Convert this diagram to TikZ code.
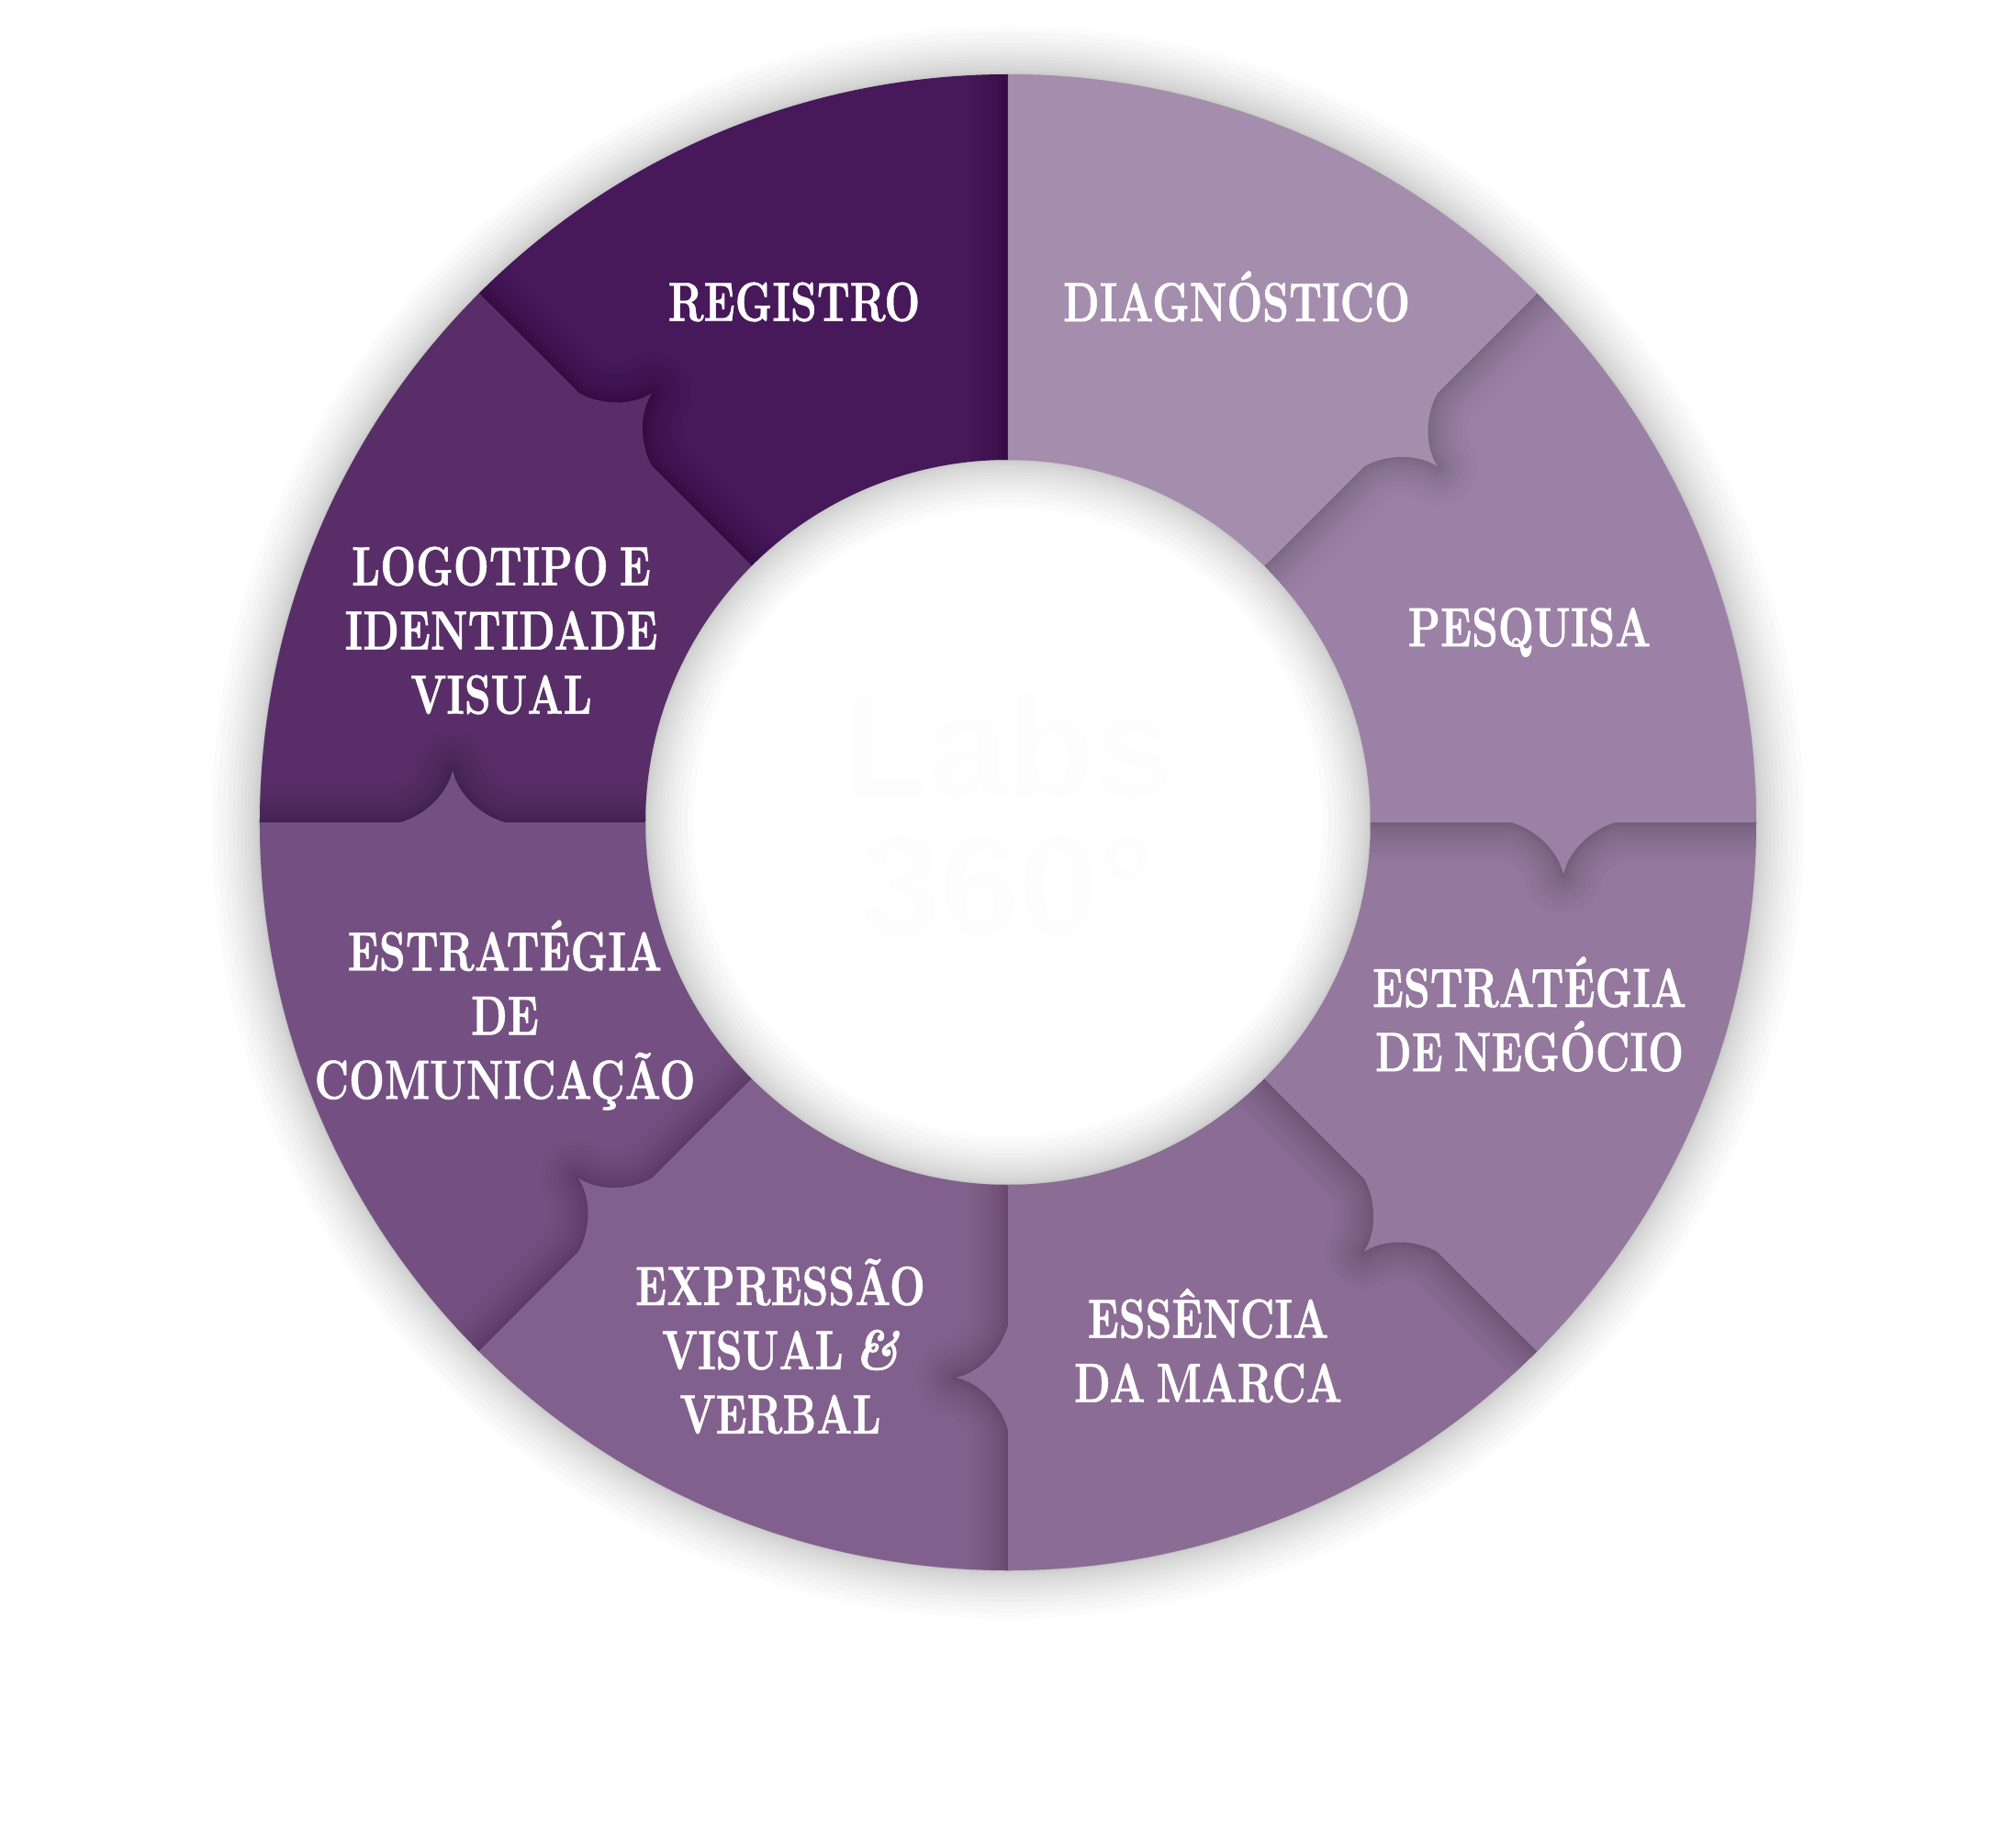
\documentclass[tikz,border=0pt]{standalone}
\usepackage{fontspec}
\newfontfamily\wheelfont{lmroman10-bold.otf}[FakeStretch=0.745, FakeBold=0.7, WordSpace=0.7]
\newfontfamily\ampfont{lmroman10-bolditalic.otf}[FakeStretch=0.9, FakeBold=1.2]
\newfontfamily\hubfont{Liberation Sans}
\definecolor{regcolor}{RGB}{71, 24, 90}
\definecolor{logocolor}{RGB}{89, 46, 104}
\definecolor{comcolor}{RGB}{116, 80, 130}
\definecolor{exprcolor}{RGB}{130, 96, 141}
\definecolor{esscolor}{RGB}{139, 108, 149}
\definecolor{negcolor}{RGB}{148, 120, 158}
\definecolor{pesqcolor}{RGB}{156, 129, 167}
\definecolor{diagcolor}{RGB}{165, 141, 173}
\definecolor{hubcolor}{RGB}{253, 253, 253}

\newcommand{\slicepath}{
  (3.95, 0) -- (5.48, 0)
  .. controls (5.76, -0.08) and (6.00, -0.32) .. (6.05, -0.57)
  .. controls (6.10, -0.32) and (6.34, -0.08) .. (6.62, 0)
  -- (8.15, 0) arc[start angle=0, end angle=45, radius=8.15]
  -- (45:3.95) arc[start angle=45, end angle=0, radius=3.95] -- cycle
}

\begin{document}
\begin{tikzpicture}[
  wheellabel/.style={align=center, text=white, inner sep=0pt, font=\wheelfont\fontsize{17.2}{19.9}\selectfont},
  softedge/.style={draw=black, draw opacity=0.014, fill=none, line join=round}
]
  \useasboundingbox (-10.98, -10.98) rectangle (10.98, 8.96);

  % shadow around the ring
  \foreach \i in {1,...,16} {
    \draw[softedge, line width={1.05*(\i/16)^2*1cm}] (0, 0) circle[radius=8.15];
    \draw[softedge, line width={1.05*(\i/16)^2*1cm}] (0, 0) circle[radius=3.95];
  }

  % bottom slice, the others lie on top of it in turn
  \fill[regcolor] (90:3.95) -- (90:8.15) arc[start angle=90, end angle=135, radius=8.15]
    -- (135:3.95) arc[start angle=135, end angle=90, radius=3.95] -- cycle;

  \foreach \ang/\col in {135/logocolor, 180/comcolor, 225/exprcolor, 270/esscolor, 315/negcolor, 0/pesqcolor, 45/diagcolor} {
    \begin{scope}[even odd rule]
      \clip (0, 0) circle[radius=8.15] (0, 0) circle[radius=3.95];
      \begin{scope}[rotate=\ang]
        \foreach \i in {1,...,14} {
          \draw[softedge, line width={0.85*(\i/14)^2*1cm}] \slicepath;
        }
      \end{scope}
    \end{scope}
    \fill[\col, rotate=\ang] \slicepath;
  }

  \node[wheellabel] (registro) at (-2.33, 5.67) {REGISTRO};
  \node[wheellabel] (diagnostico) at (2.49, 5.73) {DIAGNÓSTICO};
  \node[wheellabel] (pesquisa) at (5.68, 2.07) {PESQUISA};
  \node[wheellabel] (negocio) at (5.68, -2.09) {ESTRATÉGIA\\DE NEGÓCIO};
  \node[wheellabel] (essencia) at (2.18, -5.70) {ESSÊNCIA\\DA MARCA};
  \node[wheellabel] (expressao) at (-2.48, -5.71) {EXPRESSÃO\\VISUAL {\ampfont\&}\\VERBAL};
  \node[wheellabel] (comunicacao) at (-5.48, -2.10) {ESTRATÉGIA\\DE\\COMUNICAÇÃO};
  \node[wheellabel] (logotipo) at (-5.52, 2.09) {LOGOTIPO E\\IDENTIDADE\\VISUAL};

  % almost white, as faint as in the source
  \node[text=hubcolor, inner sep=0pt, font=\hubfont\bfseries\fontsize{44}{43}\selectfont, align=center] (hub) at (0.0, 0.08) {Labs\\360°};
\end{tikzpicture}
\end{document}
